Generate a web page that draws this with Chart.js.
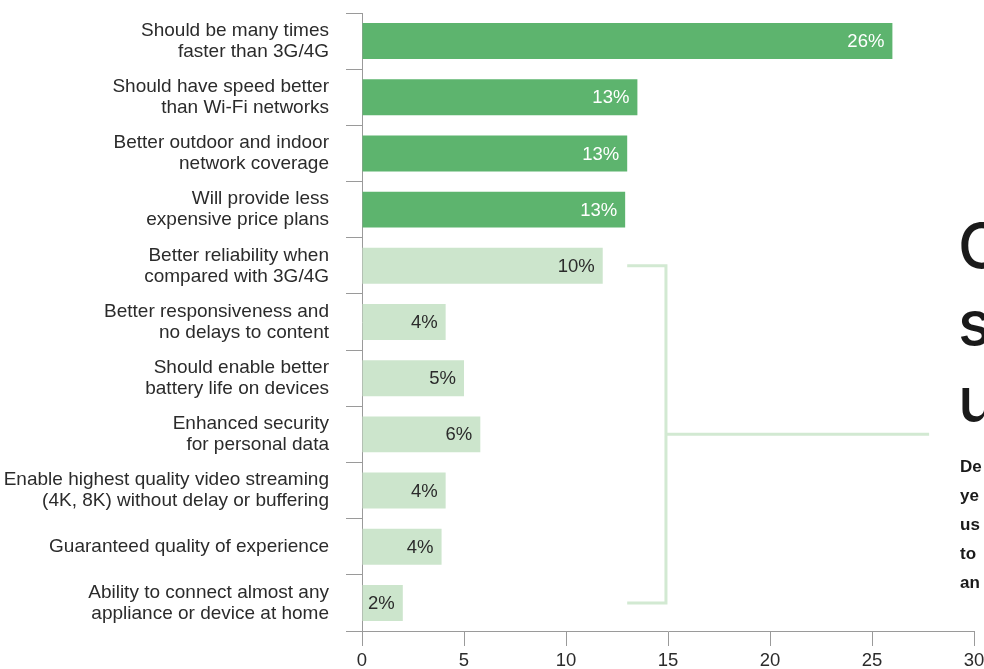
<!DOCTYPE html>
<html>
<head>
<meta charset="utf-8">
<script src="https://cdn.jsdelivr.net/npm/chart.js@4"></script>
<style>
  html, body { margin: 0; padding: 0; background: #fff; overflow: hidden; }
  #wrap { position: relative; width: 984px; height: 669px; overflow: hidden; }
  canvas { position: absolute; left: 0; top: 0; }
  .big { position: absolute; left: 958px; top: 207px; font: 500 62px Inter, "Liberation Sans", Arial, sans-serif; line-height: 77px; color: #1a1a1a; }
  .note { position: absolute; left: 960px; top: 452px; font: bold 17px "Liberation Sans", Arial, sans-serif; line-height: 29px; color: #1a1a1a; white-space: nowrap; }
</style>
</head>
<body>
<div id="wrap">
  <canvas id="chart" width="984" height="669"></canvas>
  <div class="big">O<br>s<br>u</div>
  <div class="note">De<br>ye<br>us<br>to<br>an</div>
</div>
<script>
const categories = [
  ['Should be many times', 'faster than 3G/4G'],
  ['Should have speed better', 'than Wi-Fi networks'],
  ['Better outdoor and indoor', 'network coverage'],
  ['Will provide less', 'expensive price plans'],
  ['Better reliability when', 'compared with 3G/4G'],
  ['Better responsiveness and', 'no delays to content'],
  ['Should enable better', 'battery life on devices'],
  ['Enhanced security', 'for personal data'],
  ['Enable highest quality video streaming', '(4K, 8K) without delay or buffering'],
  'Guaranteed quality of experience',
  ['Ability to connect almost any', 'appliance or device at home']
];
const values = [26.0, 13.5, 13.0, 12.9, 11.8, 4.1, 5.0, 5.8, 4.1, 3.9, 2.0];
const valueLabels = ['26%', '13%', '13%', '13%', '10%', '4%', '5%', '6%', '4%', '4%', '2%'];
const xTicks = [0, 5, 10, 15, 20, 25, 30];
const topCount = 4;

const darkGreen = '#5db46e';
const lightGreen = '#cce5cc';
const font = '"Liberation Sans", Arial, sans-serif';

const barLabels = {
  id: 'barLabels',
  afterDatasetsDraw(chart) {
    const ctx = chart.ctx;
    const meta = chart.getDatasetMeta(0);
    ctx.save();
    ctx.font = '18.5px ' + font;
    ctx.textAlign = 'right';
    ctx.textBaseline = 'middle';
    meta.data.forEach((bar, i) => {
      ctx.fillStyle = i < topCount ? '#ffffff' : '#2b2b2b';
      ctx.fillText(valueLabels[i], bar.x - 8, bar.y + 1);
    });
    ctx.restore();
  }
};

// bracket grouping the light bars
const bracket = {
  id: 'bracket',
  afterDatasetsDraw(chart) {
    const ctx = chart.ctx;
    const x = chart.scales.x, y = chart.scales.y;
    const x0 = x.getPixelForValue(13), x1 = x.getPixelForValue(14.9), x2 = x.getPixelForValue(27.8);
    const yTop = y.getPixelForValue(topCount);
    const yBot = y.getPixelForValue(values.length - 1);
    const yMid = (yTop + yBot) / 2;
    ctx.save();
    ctx.strokeStyle = '#d2e9d2';
    ctx.lineWidth = 3;
    ctx.beginPath();
    ctx.moveTo(x0, yTop);
    ctx.lineTo(x1, yTop);
    ctx.lineTo(x1, yBot);
    ctx.lineTo(x0, yBot);
    ctx.moveTo(x1, yMid);
    ctx.lineTo(x2, yMid);
    ctx.stroke();
    ctx.restore();
  }
};

new Chart(document.getElementById('chart'), {
  type: 'bar',
  data: {
    labels: categories,
    datasets: [{
      data: values,
      backgroundColor: values.map((v, i) => i < topCount ? darkGreen : lightGreen),
      barPercentage: 0.64,
      categoryPercentage: 1
    }]
  },
  options: {
    indexAxis: 'y',
    responsive: false,
    animation: false,
    layout: { padding: { top: 13, right: 10, left: 0, bottom: 0 } },
    plugins: { legend: { display: false }, tooltip: { enabled: false } },
    scales: {
      x: {
        min: 0,
        max: 30,
        afterBuildTicks: scale => { scale.ticks = xTicks.map(v => ({ value: v })); },
        afterFit: scale => { scale.height = 38; scale.paddingLeft = 0; scale.paddingRight = 0; },
        ticks: { color: '#2b2b2b', font: { family: font, size: 18.5 }, padding: 4, maxRotation: 0 },
        grid: { drawOnChartArea: false, tickLength: 15, color: '#9a9a9a' },
        border: { color: '#9a9a9a' }
      },
      y: {
        afterFit: scale => { scale.width = 362; scale.paddingTop = 0; scale.paddingBottom = 0; },
        ticks: { color: '#2b2b2b', font: { family: font, size: 19, lineHeight: 1.1 }, padding: 17, autoSkip: false },
        grid: { offset: true, drawOnChartArea: false, tickLength: 16, color: '#9a9a9a' },
        border: { color: '#9a9a9a' }
      }
    }
  },
  plugins: [barLabels, bracket]
});
</script>
</body>
</html>
